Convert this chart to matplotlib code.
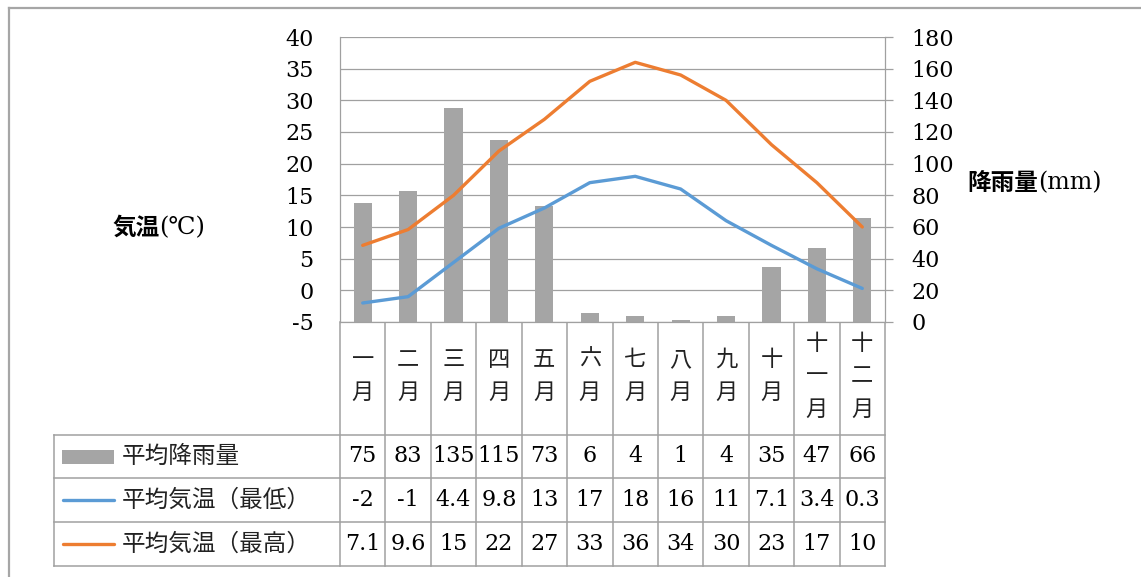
import numpy as np
import matplotlib
matplotlib.use("Agg")
import matplotlib.pyplot as plt
from matplotlib.patches import Rectangle

# Monthly climate data
months = ["一月", "二月", "三月", "四月", "五月", "六月",
          "七月", "八月", "九月", "十月", "十一月", "十二月"]
rain = [75, 83, 135, 115, 73, 6, 4, 1, 4, 35, 47, 66]
tmin = [-2, -1, 4.4, 9.8, 13, 17, 18, 16, 11, 7.1, 3.4, 0.3]
tmax = [7.1, 9.6, 15, 22, 27, 33, 36, 34, 30, 23, 17, 10]
row_names = ["平均降雨量", "平均気温（最低）", "平均気温（最高）"]
temp_ticks = list(range(-5, 41, 5))
rain_ticks = list(range(0, 181, 20))

plt.rcParams["axes.unicode_minus"] = False

BAR_C = "#A5A5A5"
MIN_C = "#5B9BD5"
MAX_C = "#ED7D31"
GRID_C = "#A0A0A0"
CJK = ["Noto Sans CJK JP", "DejaVu Sans"]
SERIF = ["DejaVu Serif", "Noto Sans CJK JP"]

W, H = 1141, 577
fig = plt.figure(figsize=(W / 100, H / 100), dpi=100)

# plot area in pixels
L, R, T, B = 340, 885, 37, 322

# overlay in pixel coordinates for the frame and the data table
ov = fig.add_axes([0, 0, 1, 1])
ov.set_xlim(0, W)
ov.set_ylim(H, 0)
ov.axis("off")

ax = fig.add_axes([L / W, 1 - B / H, (R - L) / W, (B - T) / H])
ax2 = ax.twinx()

# rainfall bars on the right-hand scale
x = np.arange(len(months))
ax.set_xlim(-0.5, len(months) - 0.5)
ax.set_ylim(rain_ticks[0], rain_ticks[-1])
ax.bar(x, rain, width=0.4, color=BAR_C, zorder=2)
ax.set_axisbelow(True)
ax.yaxis.grid(True, color=GRID_C, lw=0.9)
ax.yaxis.tick_right()
ax.set_yticks(rain_ticks)
ax.set_yticklabels([str(v) for v in rain_ticks], family=SERIF, fontsize=16)
ax.tick_params(axis="y", which="both", left=False, labelleft=False,
               right=True, labelright=True, direction="out", length=6,
               width=0.9, color=GRID_C, pad=13)
ax.set_xticks([])
for side in ["left", "right", "bottom"]:
    ax.spines[side].set_color(GRID_C)
    ax.spines[side].set_linewidth(0.9)
ax.spines["top"].set_visible(False)

# temperature lines on the left-hand scale
ax2.set_ylim(temp_ticks[0], temp_ticks[-1])
ax2.yaxis.tick_left()
ax2.set_yticks(temp_ticks)
ax2.set_yticklabels([str(v) for v in temp_ticks], family=SERIF, fontsize=16)
ax2.tick_params(axis="y", which="both", right=False, labelright=False,
                left=True, labelleft=True, length=0, pad=19)
for s in ax2.spines.values():
    s.set_visible(False)
ax2.plot(x, tmin, color=MIN_C, lw=2.4, solid_capstyle="round", solid_joinstyle="round", zorder=3)
ax2.plot(x, tmax, color=MAX_C, lw=2.4, solid_capstyle="round", solid_joinstyle="round", zorder=3)

# axis titles
t1 = ov.text(112, 228, "気温", family=CJK, fontsize=17, fontweight="bold", ha="left", va="center")
ov.annotate("(℃)", xy=(1, 0.5), xycoords=t1, family=SERIF, fontsize=17.5, ha="left", va="center")
t2 = ov.text(967, 183, "降雨量", family=CJK, fontsize=17, fontweight="bold", ha="left", va="center")
ov.annotate("(mm)", xy=(1, 0.5), xycoords=t2, family=SERIF, fontsize=17, ha="left", va="center")

# outer frame
ov.plot([8.5, W], [7.5, 7.5], color="#A6A6A6", lw=1.6)
ov.plot([8.5, 8.5], [7.5, H], color="#A6A6A6", lw=1.6)

# data table
n = len(months)
cols = [L + i * (R - L) / n for i in range(n + 1)]
row_edges = [B, 435, 478, 522, 566]
TL = 54
tlw = 1.1
for cx in cols:
    ov.plot([cx, cx], [B, row_edges[-1]], color=GRID_C, lw=tlw)
for ry in row_edges[1:]:
    ov.plot([TL, R], [ry, ry], color=GRID_C, lw=tlw)
ov.plot([TL, TL], [row_edges[1], row_edges[-1]], color=GRID_C, lw=tlw)

# month headers written vertically
hc = 376
for i, m in enumerate(months):
    cx = (cols[i] + cols[i + 1]) / 2
    k = len(m)
    for j, ch in enumerate(m):
        ov.text(cx, hc + (j - (k - 1) / 2) * 33, ch, family=CJK, fontsize=16,
                ha="center", va="center", color="#222222")

# row labels with legend keys
row_c = [(row_edges[i] + row_edges[i + 1]) / 2 for i in range(1, 4)]
ov.add_patch(Rectangle((62, row_c[0] - 7), 52, 14, color=BAR_C, lw=0))
ov.plot([63, 114], [row_c[1], row_c[1]], color=MIN_C, lw=2.4, solid_capstyle="round")
ov.plot([63, 114], [row_c[2], row_c[2]], color=MAX_C, lw=2.4, solid_capstyle="round")
for yc, name in zip(row_c, row_names):
    ov.text(122, yc, name, family=CJK, fontsize=17, ha="left", va="center", color="#222222")

for yc, vals in zip(row_c, [rain, tmin, tmax]):
    for i, v in enumerate(vals):
        cx = (cols[i] + cols[i + 1]) / 2
        ov.text(cx, yc, f"{v:g}", family=SERIF, fontsize=16, ha="center", va="center")

fig.savefig("out.png", dpi=100)
